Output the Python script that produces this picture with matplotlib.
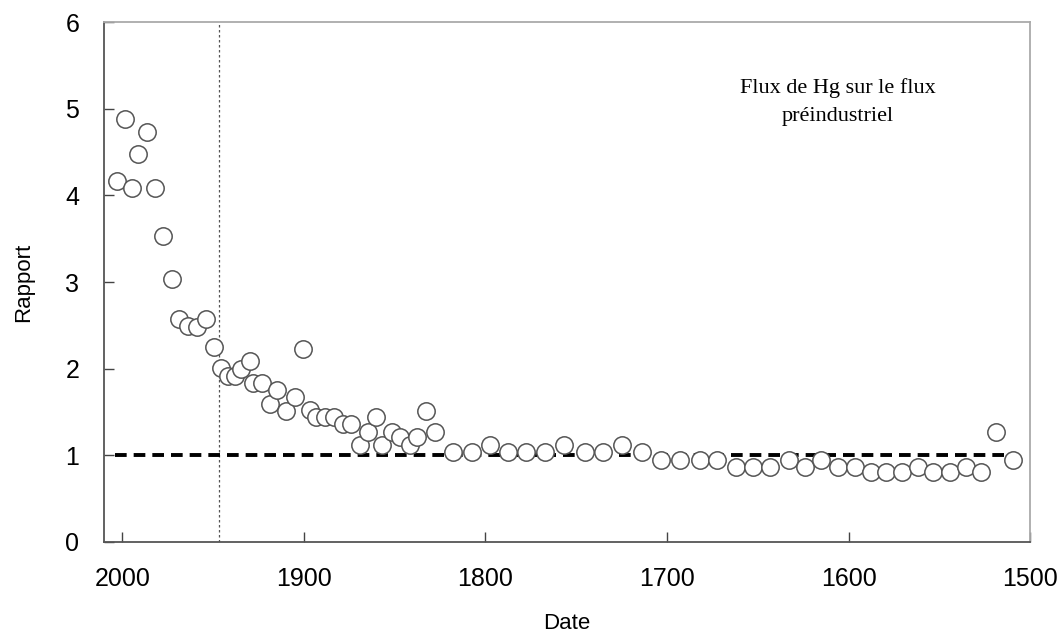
import matplotlib
matplotlib.use("Agg")
import matplotlib.pyplot as plt

# data
years = [2003.2, 1998.6, 1994.9, 1991.1, 1986.3, 1981.9, 1977.5, 1972.9, 1968.7, 1963.8,
         1959.1, 1954.0, 1949.6, 1945.4, 1941.7, 1938.1, 1934.4, 1929.8, 1928.0, 1923.3,
         1918.8, 1914.8, 1910.1, 1905.0, 1900.4, 1896.7, 1893.1, 1888.5, 1883.5, 1878.7,
         1873.8, 1869.2, 1864.6, 1860.4, 1856.7, 1851.2, 1846.8, 1841.7, 1837.7, 1832.5,
         1827.9, 1817.8, 1807.2, 1797.6, 1787.6, 1777.4, 1767.3, 1756.9, 1745.3, 1735.2,
         1724.6, 1713.6, 1703.1, 1692.6, 1682.0, 1672.5, 1661.8, 1652.4, 1643.1, 1632.8,
         1623.8, 1615.4, 1605.8, 1596.6, 1587.4, 1579.2, 1570.4, 1561.8, 1553.5, 1544.3,
         1535.1, 1526.9, 1518.6, 1509.5]
ratio = [4.17, 4.88, 4.09, 4.48, 4.73, 4.09, 3.53, 3.03, 2.57, 2.49,
         2.48, 2.57, 2.25, 2.01, 1.92, 1.92, 2.00, 2.09, 1.84, 1.84,
         1.59, 1.75, 1.51, 1.67, 2.23, 1.52, 1.44, 1.44, 1.44, 1.36,
         1.36, 1.12, 1.27, 1.44, 1.12, 1.27, 1.21, 1.12, 1.21, 1.51,
         1.27, 1.04, 1.04, 1.12, 1.04, 1.04, 1.04, 1.12, 1.04, 1.04,
         1.12, 1.04, 0.95, 0.95, 0.95, 0.95, 0.87, 0.87, 0.87, 0.95,
         0.87, 0.95, 0.87, 0.87, 0.81, 0.81, 0.81, 0.87, 0.81, 0.81,
         0.87, 0.81, 1.27, 0.95]

ref_years = [2004, 1513]
ref_level = [1, 1]
industrial_year = 1947

xticks = [2000, 1900, 1800, 1700, 1600, 1500]
yticks = [0, 1, 2, 3, 4, 5, 6]

plt.rcParams['font.family'] = ['Liberation Sans', 'DejaVu Sans']

fig = plt.figure(figsize=(10.63, 6.36), dpi=100)
ax = fig.add_axes([0.098, 0.148, 0.871, 0.817])

ax.plot(ref_years, ref_level, color='black', lw=2.8, dashes=(3.0, 1.8), zorder=2)
ax.axvline(industrial_year, color='#555555', lw=0.9, ls=(0, (2, 2)), zorder=1)
ax.plot(years, ratio, 'o', ms=12.5, mfc='white', mec='#555555', mew=1.1,
        ls='none', zorder=3)

ax.text(1606, 5.08, "Flux de Hg sur le flux\npréindustriel", ha='center', va='center',
        fontsize=16, family='Liberation Serif', linespacing=1.6)

ax.set_xlim(2010, 1500)
ax.set_ylim(0, 6)
ax.set_xticks(xticks)
ax.set_yticks(yticks)
ax.tick_params(direction='in', length=7, width=1, colors='#444444', labelcolor='black',
               labelsize=18)
ax.tick_params(axis='y', pad=18)
ax.tick_params(axis='x', pad=18)

ax.set_xlabel('Date', fontsize=16, labelpad=16)
ax.set_ylabel('Rapport', fontsize=16, labelpad=22)

for s in ['left', 'bottom']:
    ax.spines[s].set_color('#555555')
    ax.spines[s].set_linewidth(1.3)
for s in ['top', 'right']:
    ax.spines[s].set_color('#aaaaaa')
    ax.spines[s].set_linewidth(1.3)

fig.savefig('out.png', dpi=100)
